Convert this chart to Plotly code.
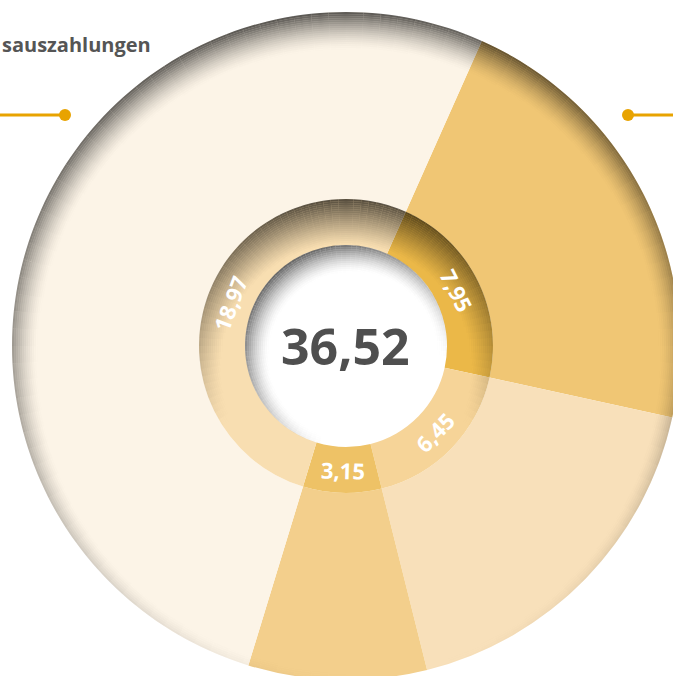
import math
import plotly.graph_objects as go

# ---------------- Data ----------------
labels = ["A", "B", "C", "D"]
values = [7.95, 6.45, 3.15, 18.97]
title_text = "sauszahlungen"
total_label = f"{sum(values):.2f}".replace(".", ",")
value_labels = [f"{v:.2f}".replace(".", ",") for v in values]

outer_colors = ["#F0C674", "#F8E0BA", "#F3CF8C", "#FCF4E7"]
inner_colors = ["#EBB848", "#F6D498", "#EEC266", "#F8DEB1"]
start_angle = 24  # degrees clockwise from 12 o'clock

# ---------------- Geometry ----------------
W, H = 681, 681
cx, cy = 346, 346          # pixel center (from top-left)
R_out, R_mid, R_in = 334, 147, 101


def dom(r):
    return dict(x=[max(0, (cx - r) / W), min(1, (cx + r) / W)],
                y=[max(0, (H - cy - r) / H), min(1, (H - cy + r) / H)])


fig = go.Figure()
fig.add_trace(go.Pie(
    labels=labels, values=values, sort=False, direction="clockwise", rotation=start_angle,
    hole=R_mid / R_out, domain=dom(R_out), textinfo="none",
    marker=dict(colors=outer_colors, line=dict(width=0)),
    hoverinfo="skip", showlegend=False,
))
fig.add_trace(go.Pie(
    labels=labels, values=values, sort=False, direction="clockwise", rotation=start_angle,
    hole=R_in / R_mid, domain=dom(R_mid), textinfo="none",
    marker=dict(colors=inner_colors, line=dict(width=0)),
    hoverinfo="skip", showlegend=False,
))


# ---------------- Inset shadows (styling) ----------------
def add_shadow(R, depth, step, theta0, t_base, t_var, amp, amp_base, power=1.6, nseg=120):
    k = 0
    while k * step < depth:
        r_o = R - k * step
        r_i = r_o - step
        d = k * step + step / 2
        cols = []
        for j in range(nseg):
            th = (j + 0.5) * 360 / nseg
            c = math.cos(math.radians(th - theta0))
            t = max(1e-3, t_base + t_var * c)
            a = amp * max(0.0, amp_base + (1 - amp_base) * c) * max(0.0, 1 - d / t) ** power
            cols.append(f"rgba(0,0,0,{a:.3f})")
        fig.add_trace(go.Pie(
            values=[1] * nseg, sort=False, direction="clockwise", rotation=0,
            hole=r_i / r_o, domain=dom(r_o), textinfo="none",
            marker=dict(colors=cols, line=dict(width=0)),
            hoverinfo="skip", showlegend=False,
        ))
        k += 1


add_shadow(R_out, 40, 2, -10, 24, 14, 0.66, 0.5)
add_shadow(R_mid, 46, 2, 0, 24, 22, 0.66, 0.35, power=1.2)
add_shadow(R_in, 30, 2, -35, 18, 12, 0.62, 0.4)

# ---------------- Labels ----------------
total = sum(values)
cum = 0
r_lab = (R_in + R_mid) / 2
for v, lab in zip(values, value_labels):
    th = start_angle + 360 * (cum + v / 2) / total
    cum += v
    thn = th % 360
    px = cx + r_lab * math.sin(math.radians(thn))
    py = cy - r_lab * math.cos(math.radians(thn))
    ang = thn if (thn <= 90 or thn >= 270) else thn - 180
    if ang >= 270:
        ang -= 360
    fig.add_annotation(
        x=px / W, y=(H - py) / H, xref="paper", yref="paper",
        xanchor="center", yanchor="middle",
        text=f"<b>{lab}</b>", showarrow=False, textangle=ang,
        font=dict(family="Open Sans", size=22, color="white"),
    )

fig.add_annotation(
    x=cx / W, y=(H - cy) / H, xref="paper", yref="paper",
    xanchor="center", yanchor="middle",
    text=f"<b>{total_label}</b>", showarrow=False,
    font=dict(family="Open Sans", size=50, color="#4F4F4F"),
)
fig.add_annotation(
    x=0, y=(H - 45) / H, xref="paper", yref="paper",
    xanchor="left", yanchor="middle",
    text=f"<b>{title_text}</b>", showarrow=False,
    font=dict(family="Open Sans", size=20, color="#555555"),
)

line_col = "#E8A300"
ly_px = 115
ly = (H - ly_px) / H
fig.add_shape(type="line", xref="paper", yref="paper", x0=0, x1=65 / W,
              y0=ly, y1=ly, line=dict(color=line_col, width=3))
fig.add_shape(type="line", xref="paper", yref="paper", x0=628 / W, x1=1,
              y0=ly, y1=ly, line=dict(color=line_col, width=3))
for px in (65, 628):
    fig.add_shape(type="circle", xref="paper", yref="paper",
                  x0=(px - 6) / W, x1=(px + 6) / W,
                  y0=(H - ly_px - 6) / H, y1=(H - ly_px + 6) / H,
                  fillcolor=line_col, line=dict(width=0))

fig.update_layout(
    width=W, height=H, margin=dict(l=0, r=0, t=0, b=0),
    paper_bgcolor="white", plot_bgcolor="white",
    separators=",.",
)

fig.write_html("out.html", config={"displayModeBar": False},
               post_script="document.body.style.margin='0px';")
